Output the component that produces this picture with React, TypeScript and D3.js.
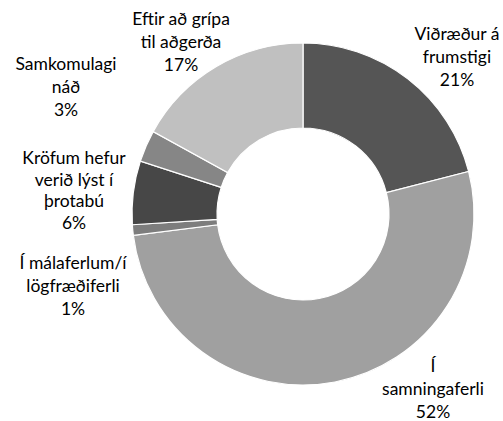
import React from "react";
import * as d3 from "d3";

// categories (clockwise from 12 o'clock), values in %
const categories = [
  ["Viðræður á", "frumstigi"],
  ["Í", "samningaferli"],
  ["Í málaferlum/í", "lögfræðiferli"],
  ["Kröfum hefur", "verið lýst í", "þrotabú"],
  ["Samkomulagi", "náð"],
  ["Eftir að grípa", "til aðgerða"],
];
const values = [21, 52, 1, 6, 3, 17];
const colors = ["#555555", "#a0a0a0", "#7d7d7d", "#474747", "#868686", "#c0c0c0"];

// label anchor (centre of first line) relative to donut centre
const labelOffsets = [
  [154, -181],
  [130, 151],
  [-230, 48],
  [-229, -57],
  [-237, -151],
  [-122, -196],
];
const labelLineH = [23, 23, 23, 21.5, 23, 23];

const width = 503;
const height = 421;
const cx = 303;
const cy = 214;
const outerR = 171;
const innerR = 86;

export default function App() {
  const pie = d3
    .pie<number>()
    .sort(null)
    .value((d) => d);
  const arcs = pie(values);
  const arc = d3
    .arc<d3.PieArcDatum<number>>()
    .innerRadius(innerR)
    .outerRadius(outerR);

  return (
    <svg
      width={width}
      height={height}
      style={{ position: "absolute", left: 0, top: 0, background: "#fff" }}
      fontFamily="Lato, 'Open Sans', sans-serif"
      fontSize={17.5}
    >
      <g transform={`translate(${cx},${cy})`}>
        {arcs.map((a, i) => (
          <path
            key={i}
            d={arc(a) || ""}
            fill={colors[i]}
            stroke="#fff"
            strokeWidth={1.2}
          />
        ))}
        {arcs.map((a, i) => {
          const lines = [...categories[i], `${values[i]}%`];
          const [ox, oy] = labelOffsets[i];
          return (
            <text
              key={"l" + i}
              x={ox}
              y={oy}
              textAnchor="middle"
              dominantBaseline="central"
              fill="#000"
            >
              {lines.map((t, j) => (
                <tspan key={j} x={ox} y={oy + j * labelLineH[i]}>
                  {t}
                </tspan>
              ))}
            </text>
          );
        })}
      </g>
    </svg>
  );
}
